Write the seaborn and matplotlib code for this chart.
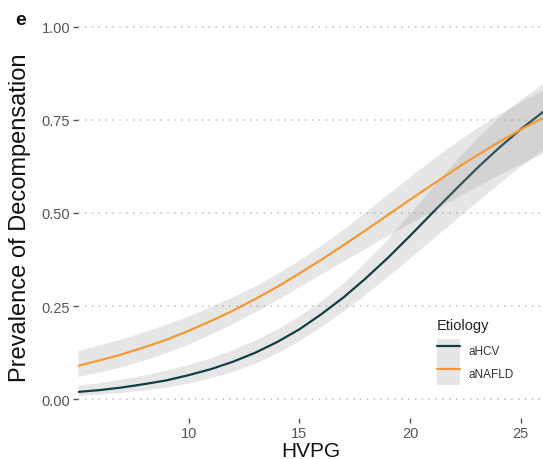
import numpy as np
import pandas as pd
import seaborn as sns
import matplotlib
matplotlib.use("Agg")
import matplotlib.pyplot as plt
from matplotlib.patches import Patch
from matplotlib.lines import Line2D

# Fitted prevalence of decompensation by HVPG, with 95% confidence bands
hvpg = [5, 6, 7, 8, 9, 10, 11, 12, 13, 14, 15, 16, 17, 18, 19, 20, 21, 22, 23, 24, 25, 26]

hcv_fit = [0.020, 0.025, 0.032, 0.041, 0.051, 0.065, 0.081, 0.101, 0.125, 0.154, 0.188,
           0.229, 0.274, 0.325, 0.380, 0.439, 0.500, 0.560, 0.619, 0.674, 0.725, 0.771]
hcv_low = [0.011, 0.014, 0.019, 0.025, 0.033, 0.044, 0.058, 0.075, 0.097, 0.125, 0.158,
           0.196, 0.238, 0.283, 0.331, 0.380, 0.430, 0.480, 0.530, 0.579, 0.626, 0.670]
hcv_high = [0.038, 0.045, 0.055, 0.066, 0.079, 0.094, 0.112, 0.134, 0.159, 0.189, 0.224,
            0.265, 0.314, 0.370, 0.432, 0.500, 0.569, 0.637, 0.700, 0.757, 0.806, 0.848]

nafld_fit = [0.090, 0.105, 0.121, 0.140, 0.160, 0.184, 0.210, 0.238, 0.269, 0.302, 0.338,
             0.375, 0.414, 0.454, 0.495, 0.536, 0.576, 0.616, 0.654, 0.690, 0.724, 0.755]
nafld_low = [0.061, 0.074, 0.088, 0.106, 0.126, 0.149, 0.175, 0.204, 0.235, 0.268, 0.303,
             0.337, 0.372, 0.406, 0.440, 0.473, 0.506, 0.539, 0.571, 0.602, 0.632, 0.662]
nafld_high = [0.131, 0.147, 0.163, 0.182, 0.202, 0.224, 0.249, 0.276, 0.305, 0.338, 0.374,
              0.415, 0.458, 0.504, 0.551, 0.598, 0.644, 0.687, 0.728, 0.766, 0.799, 0.830]

groups = ["aHCV", "aNAFLD"]
colors = ["#133f44", "#f39a34"]
y_ticks = [0.00, 0.25, 0.50, 0.75, 1.00]
y_tick_labels = ["0.00", "0.25", "0.50", "0.75", "1.00"]
x_ticks = [10, 15, 20, 25]

df = pd.DataFrame({
    "HVPG": hvpg * 2,
    "Prevalence": hcv_fit + nafld_fit,
    "Low": hcv_low + nafld_low,
    "High": hcv_high + nafld_high,
    "Etiology": [groups[0]] * len(hvpg) + [groups[1]] * len(hvpg),
})

sns.set_theme(style="white")
plt.rcParams["font.family"] = ["Liberation Sans", "DejaVu Sans"]

fig = plt.figure(figsize=(5.43, 4.60), dpi=100)
ax = fig.add_axes([78 / 543, 1 - 419 / 460, 465 / 543, 410 / 460])

band_color = "#999999"
for i, (g, c) in enumerate(zip(groups, colors)):
    sub = df[df["Etiology"] == g]
    ax.fill_between(sub["HVPG"], sub["Low"], sub["High"], color=band_color,
                    alpha=0.24, linewidth=0, zorder=2 + 2 * i)

sns.lineplot(data=df, x="HVPG", y="Prevalence", hue="Etiology", hue_order=groups,
             palette=colors, linewidth=1.6, legend=False, ax=ax)
for i, line in enumerate(ax.lines):
    line.set_zorder(3 + 2 * i)

ax.set_xlim(5, 26)
ax.set_ylim(-0.05, 1.05)
ax.set_yticks(y_ticks)
ax.set_yticklabels(y_tick_labels)
ax.set_xticks(x_ticks)

ax.yaxis.grid(True, color="#bdbdbd", linestyle=(0, (1, 3.5)), linewidth=1.1)
ax.xaxis.grid(False)
for s in ax.spines.values():
    s.set_visible(False)

ax.tick_params(axis="both", which="major", labelsize=10.5, labelcolor="#555555",
               color="#555555", length=3.5, width=1.0, pad=2,
               left=True, bottom=True)

ax.set_xlabel("HVPG", fontsize=15, color="#111111")
ax.xaxis.label.set_va("baseline")
ax.xaxis.set_label_coords(0.5, (419 - 457) / 410)
ax.set_ylabel("Prevalence of Decompensation", fontsize=17, color="#111111")
ax.yaxis.set_label_coords(-0.102, 0.49)

fig.text(15 / 543, 1 - 25 / 460, "e", fontsize=14, fontweight="bold",
         va="baseline", ha="left", color="#111111")

# Legend: title placed on its own so the key block sits a little lower
fig.text(437 / 543, 1 - 326 / 460, "Etiology", fontsize=10.5, color="#222222",
         ha="left", va="center")
handles = [(Patch(facecolor=band_color, alpha=0.24, edgecolor="none"),
            Line2D([], [], color=c, linewidth=1.6)) for c in colors]
leg = fig.legend(handles, groups, loc="upper left",
                 bbox_to_anchor=(437 / 543, 1 - 340 / 460), bbox_transform=fig.transFigure,
                 frameon=False, fontsize=8.5,
                 handlelength=1.95, handleheight=2.6, labelspacing=0,
                 handletextpad=0.75, borderpad=0, borderaxespad=0)
for t in leg.get_texts():
    t.set_color("#333333")

fig.savefig("out.png", dpi=100, facecolor="white")
